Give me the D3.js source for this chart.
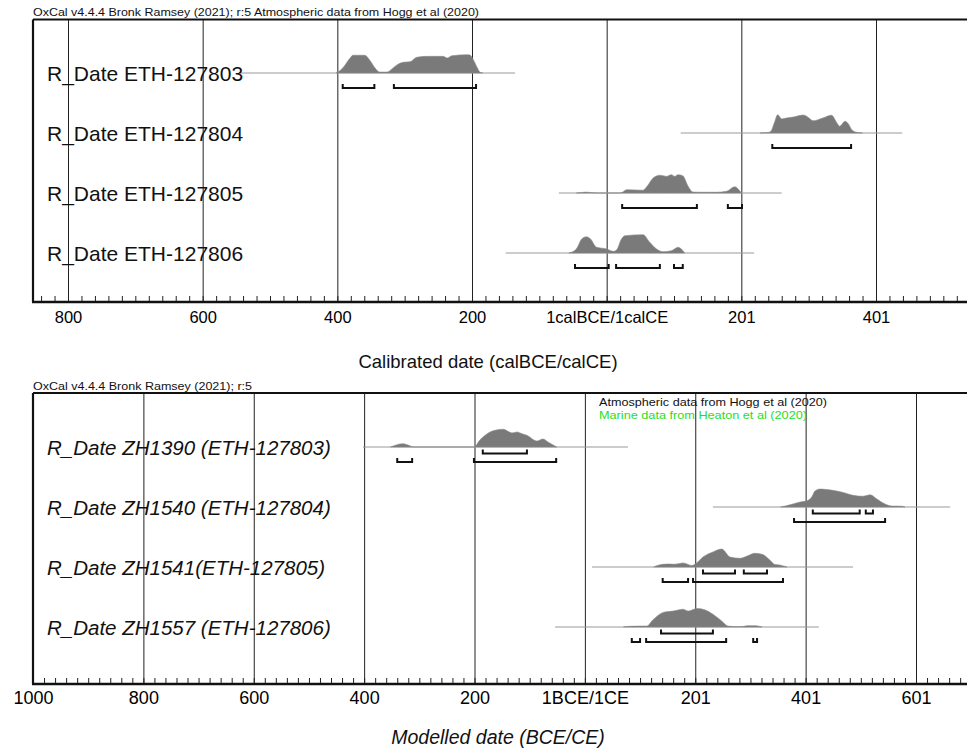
<!DOCTYPE html>
<html><head><meta charset="utf-8">
<script src="https://cdn.jsdelivr.net/npm/d3@7"></script>
<style>body{margin:0;background:#fff}svg{display:block;font-family:"Liberation Sans",Arial,sans-serif}</style>
</head><body>
<svg id="c" width="967" height="749"></svg>
<script>
// ---------- DATA ----------
const topLabels = ["R_Date ETH-127803","R_Date ETH-127804","R_Date ETH-127805","R_Date ETH-127806"];
const botLabels = ["R_Date ZH1390 (ETH-127803)","R_Date ZH1540 (ETH-127804)","R_Date ZH1541(ETH-127805)","R_Date ZH1557 (ETH-127806)"];
const topTickValues = [-800,-600,-400,-200,0,200,400];
const topTickLabels = ["800","600","400","200","1calBCE/1calCE","201","401"];
const botTickValues = [-1000,-800,-600,-400,-200,0,200,400,600];
const botTickLabels = ["1000","800","600","400","200","1BCE/1CE","201","401","601"];
// years (BCE negative), relative probability 0-100
const topDist1 = [[-402,0],[-399,5],[-392,27],[-381,81],[-377,96],[-359,96],[-352,70],[-344,27],[-337,5],[-326,5],[-319,22],[-311,45],[-302,58],[-292,61],[-282,85],[-267,90],[-243,90],[-237,81],[-230,93],[-207,99],[-203,97],[-198,72],[-192,27],[-188,4],[-184,0]];
const topDist2 = [[228,0],[240,3],[244,10],[249,55],[254,99],[260,76],[267,81],[277,86],[292,97],[297,90],[307,66],[321,81],[334,96],[342,54],[346,36],[354,63],[359,49],[364,18],[371,4],[380,0]];
const topDist3 = [[-45,0],[-36,3],[-31,5],[-25,3],[-15,0],[20,0],[23,4],[30,18],[54,15],[60,36],[69,81],[79,96],[89,90],[96,99],[101,90],[106,99],[113,93],[121,36],[128,5],[140,4],[163,4],[178,9],[190,34],[200,0]];
const topDist4 = [[-56,0],[-45,22],[-37,76],[-30,88],[-24,76],[-15,31],[0,22],[10,9],[15,18],[22,76],[27,93],[54,99],[64,58],[74,22],[84,7],[96,12],[106,31],[116,0]];
const topLines = [[-545,-136],[110,439],[-71,260],[-150,219]];
const topRanges1 = [[[-392,-345],[-316,-194]],[[246,363]],[[23,134],[180,201]],[[-47,3],[14,79],[100,113]]];

const botDist1 = [[-352,0],[-345,8],[-330,18],[-318,8],[-311,0],[-201,0],[-190,39],[-177,72],[-163,90],[-148,96],[-132,76],[-123,81],[-114,72],[-105,63],[-87,32],[-76,43],[-67,27],[-51,0]];
const botDist2 = [[355,0],[363,5],[377,16],[390,27],[401,32],[411,54],[417,86],[426,97],[449,90],[468,79],[486,63],[504,58],[517,66],[529,43],[544,16],[556,5],[575,4],[580,0]];
const botDist3 = [[125,0],[131,8],[149,16],[163,15],[178,22],[194,8],[200,16],[214,54],[232,81],[248,97],[263,54],[281,47],[294,59],[308,74],[321,69],[335,38],[344,14],[353,11],[366,0]];
const botDist4 = [[70,0],[76,3],[100,5],[112,5],[123,38],[142,79],[160,86],[178,96],[187,86],[203,100],[218,92],[232,69],[248,32],[259,5],[275,2],[287,3],[294,7],[308,7],[321,0]];
const botLines = [[-402,78],[232,662],[13,486],[-54,424]];
const botRanges68 = [[[-185,-105]],[[413,498],[509,522]],[[214,272],[288,330]],[[138,232]]];
const botRanges95 = [[[-340,-313],[-201,-52]],[[379,544]],[[141,187],[196,359]],[[85,100],[111,256],[305,312]]];

// ---------- DRAW ----------
const svg = d3.select("#c");
const hScale = d3.scaleLinear().domain([0,100]).range([0,18.5]);

function panel(o){
  const g = svg.append("g");
  const x = d3.scaleLinear().domain(o.domain).range(o.range);
  const y = d3.scalePoint().domain(o.labels).range(o.rowRange);
  const top = o.top, bot = o.bottom;
  g.append("g").attr("transform",`translate(0,${bot})`)
    .call(d3.axisTop(x).tickValues(o.tickValues).tickSize(bot-top).tickFormat(""))
    .call(a=>{a.select(".domain").remove();a.selectAll("line").attr("stroke","#222").attr("stroke-width",1);});
  const minors = d3.range(o.minor[0],o.minor[1]+1,20);
  g.append("g").attr("transform",`translate(0,${bot})`)
    .call(d3.axisTop(x).tickValues(minors).tickSize(6).tickFormat(""))
    .call(a=>{a.select(".domain").remove();a.selectAll("line").attr("stroke","#222").attr("stroke-width",1);});
  g.append("g").attr("transform",`translate(0,${bot})`)
    .call(d3.axisBottom(x).tickValues(o.tickValues).tickSize(0).tickPadding(o.tickPad).tickFormat((d,i)=>o.tickLabels[i]))
    .call(a=>{a.select(".domain").remove();a.selectAll("text").attr("font-size",o.tickFont).attr("fill","#000").attr("font-family","Liberation Sans, Arial, sans-serif");});
  g.append("line").attr("x1",33).attr("x2",967).attr("y1",top).attr("y2",top).attr("stroke","#111").attr("stroke-width",2);
  g.append("line").attr("x1",33).attr("x2",33).attr("y1",top).attr("y2",bot).attr("stroke","#111").attr("stroke-width",2.2);
  g.append("line").attr("x1",32).attr("x2",967).attr("y1",bot).attr("y2",bot).attr("stroke","#111").attr("stroke-width",2.6);
  o.labels.forEach((lab,i)=>{
    const ry = y(lab);
    g.append("line").attr("x1",x(o.lines[i][0])).attr("x2",x(o.lines[i][1])).attr("y1",ry).attr("y2",ry).attr("stroke","#9a9a9a").attr("stroke-width",1);
    const area = d3.area().x(d=>x(d[0])).y0(ry).y1(d=>ry-hScale(d[1])).curve(d3.curveMonotoneX);
    g.append("path").datum(o.dists[i]).attr("d",area).attr("fill","#7a7a7a").attr("stroke","#8a8a8a").attr("stroke-width",0.6);
    o.rangeSets.forEach(rs=>{
      rs.sets[i].forEach(r=>{
        const by = ry + rs.off;
        g.append("path").attr("d",`M${x(r[0])},${by-4}L${x(r[0])},${by}L${x(r[1])},${by}L${x(r[1])},${by-4}`)
          .attr("fill","none").attr("stroke","#111").attr("stroke-width",2);
      });
    });
    g.append("text").attr("x",47).attr("y",ry+7.5).attr("font-size",o.labelFont)
      .attr("font-style",o.italic?"italic":"normal").attr("fill","#111").text(lab);
  });
  g.append("text").attr("x",33).attr("y",top-3.5).attr("font-size",11.5).attr("textLength",o.capLen).attr("lengthAdjust","spacingAndGlyphs").attr("fill","#111").text(o.caption);
  g.append("text").attr("x",o.titleX).attr("y",o.titleY).attr("text-anchor","middle").attr("font-size",o.titleFont)
    .attr("font-style",o.italic?"italic":"normal").attr("fill","#111").text(o.title);
  return {g,x};
}

panel({domain:[-800,400],range:[68,876],labels:topLabels,rowRange:[73,253],top:19.5,bottom:302,
  tickValues:topTickValues,tickLabels:topTickLabels,minor:[-840,520],tickPad:9,tickFont:16.5,
  lines:topLines,dists:[topDist1,topDist2,topDist3,topDist4],
  rangeSets:[{off:15,sets:topRanges1}],labelFont:21,italic:false,
  caption:"OxCal v4.4.4 Bronk Ramsey (2021); r:5 Atmospheric data from Hogg et al (2020)",capLen:446,
  title:"Calibrated date (calBCE/calCE)",titleX:488,titleY:368,titleFont:18.5});

const b = panel({domain:[-1000,600],range:[33,916],labels:botLabels,rowRange:[447,627],top:393,bottom:684,
  tickValues:botTickValues,tickLabels:botTickLabels,minor:[-980,680],tickPad:7,tickFont:18,
  lines:botLines,dists:[botDist1,botDist2,botDist3,botDist4],
  rangeSets:[{off:6.6,sets:botRanges68},{off:15,sets:botRanges95}],labelFont:20.5,italic:true,
  caption:"OxCal v4.4.4 Bronk Ramsey (2021); r:5",capLen:219,
  title:"Modelled date (BCE/CE)",titleX:498,titleY:744,titleFont:19.5});

b.g.append("text").attr("x",599).attr("y",406).attr("font-size",10.5).attr("textLength",228).attr("lengthAdjust","spacingAndGlyphs").attr("fill","#111").text("Atmospheric data from Hogg et al (2020)");
b.g.append("text").attr("x",599).attr("y",419).attr("font-size",10.5).attr("textLength",208).attr("lengthAdjust","spacingAndGlyphs").attr("fill","#1fe01f").text("Marine data from Heaton et al (2020)");
</script>
</body></html>
